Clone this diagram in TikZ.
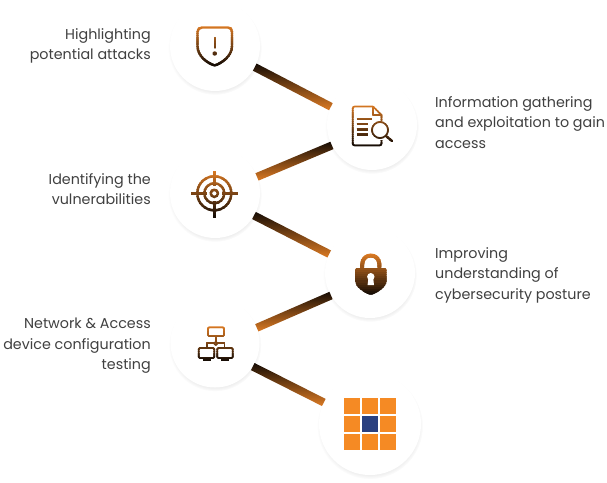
\documentclass[tikz,border=0pt]{standalone}
\usepackage{fontspec}
\setmainfont{Poppins}
\usetikzlibrary{calc,shadows}
\newlength{\du}
\setlength{\du}{1pt}
\definecolor{baseblack}{rgb}{0.090000, 0.050000, 0.020000}
\definecolor{baseorange}{rgb}{0.860000, 0.480000, 0.140000}
\definecolor{logoorange}{rgb}{0.960000, 0.540000, 0.140000}
\definecolor{logoblue}{rgb}{0.160000, 0.250000, 0.500000}
\definecolor{labelgray}{rgb}{0.250000, 0.250000, 0.250000}
\tikzset{
  badge/.style={circle,fill=white,inner sep=0pt,outer sep=0pt,
    circular drop shadow={shadow xshift=0pt,shadow yshift=-2\du,shadow scale=1.04,opacity=0.11,fill=black}},
  caption/.style={text=labelgray,font=\fontsize{14.3}{20.5}\selectfont,inner sep=0pt},
  iconline/.style={draw=iconcolor,line width=2.4\du,line cap=round,line join=round},
  iconthin/.style={draw=iconcolor,line width=1.7\du,line join=round}
}
\newcommand{\linkbar}[2]{\shade[top color=baseblack,bottom color=baseorange]
  ($(#1)!4\du!90:(#2)$) -- ($(#1)!4\du!-90:(#2)$) -- ($(#2)!4\du!90:(#1)$) -- ($(#2)!4\du!-90:(#1)$) -- cycle;}
\newcommand{\gradicon}[5]{\foreach \k in {0,...,19}{
  \pgfmathsetmacro\bandy{#3+\k*(#4-#3)/20}
  \pgfmathsetmacro\bandh{(#4-#3)/20+0.4}
  \pgfmathsetmacro\bandmix{100-\k*100/19}
  \colorlet{iconcolor}{baseorange!\bandmix!baseblack}
  \begin{scope}
  \clip (#1,\bandy) rectangle (#2,\bandy+\bandh);
  #5
  \end{scope}}}
\begin{document}
\begin{tikzpicture}[x=\du,y=-\du]
\useasboundingbox (0,0) rectangle (607,482);
\node[badge,minimum size=90\du] (shieldbadge) at (215,46) {};
\node[badge,minimum size=90\du] (docbadge) at (372,125) {};
\node[badge,minimum size=90\du] (targetbadge) at (215,193) {};
\node[badge,minimum size=90\du] (lockbadge) at (370,273) {};
\node[badge,minimum size=89\du] (netbadge) at (215,343) {};
\node[badge,minimum size=102\du] (logobadge) at (370,424) {};
\linkbar{shieldbadge.-28}{docbadge.156}
\linkbar{docbadge.207}{targetbadge.21}
\linkbar{targetbadge.-30}{lockbadge.155}
\linkbar{lockbadge.210}{netbadge.20}
\linkbar{netbadge.-32}{logobadge.155}
\gradicon{190}{240}{25}{67}{
  \draw[iconline] (197.5,32) .. controls (197.5,29) and (199.5,27.5) .. (202,27.5) -- (228,27.5) .. controls (230.5,27.5) and (232,29) .. (232,32) -- (232,46) .. controls (232,56) and (222,63) .. (214.7,65.5) .. controls (207,63) and (197.5,56) .. (197.5,46) -- cycle;
  \draw[iconline] (214.7,38) -- (214.7,47.5);
  \fill[iconcolor] (214.7,53.5) circle (2.2);
}
\gradicon{348}{396}{104}{147}{
  \draw[iconthin,rounded corners=2\du] (373,106.5) -- (352.7,106.5) -- (352.7,145.5) -- (381.5,145.5) -- (381.5,140);
  \draw[iconthin] (373,106.5) -- (381.5,115) -- (381.5,121);
  \draw[iconthin] (373,106.5) -- (373,115) -- (381.5,115);
  \draw[iconline,line cap=butt] (356.7,119) -- (371.7,119);
  \draw[iconline,line cap=butt] (356.7,124.2) -- (368,124.2);
  \draw[iconline,line cap=butt] (356.7,129.4) -- (368,129.4);
  \draw[iconline,line cap=butt] (356.7,134.6) -- (368,134.6);
  \draw[iconthin,fill=white] (380,130) circle (8);
  \draw[iconline] (386,136) -- (392,141);
}
\gradicon{188}{240}{170}{218}{
  \draw[iconline] (214.3,193.3) circle (17);
  \draw[iconline] (214.3,193.3) circle (10);
  \draw[iconline] (214.3,193.3) circle (3.6);
  \draw[iconline,line cap=butt] (214.3,171) -- (214.3,186);
  \draw[iconline,line cap=butt] (214.3,201) -- (214.3,217.5);
  \draw[iconline,line cap=butt] (191.3,193.3) -- (207,193.3);
  \draw[iconline,line cap=butt] (222,193.3) -- (237.7,193.3);
}
\gradicon{350}{392}{253}{296}{
  \draw[draw=iconcolor,line width=4\du] (362.2,270) -- (362.2,264.5) .. controls (362.2,259) and (366,255.5) .. (370.8,255.5) .. controls (375.6,255.5) and (379.4,259) .. (379.4,264.5) -- (379.4,270);
  \fill[iconcolor,rounded corners=1.5\du] (355,268) -- (386.7,268) -- (386.7,279) .. controls (386.7,287) and (378,292.5) .. (370.8,295) .. controls (363.5,292.5) and (355,287) .. (355,279) -- cycle;
}
\fill[white] (370.8,276.7) circle (3.7);
\fill[white] (368.4,278) -- (373.2,278) -- (374,285) -- (367.6,285) -- cycle;
\gradicon{194}{236}{326}{362}{
  \draw[iconthin,rounded corners=1\du] (208,327.3) rectangle (224,336);
  \draw[iconthin] (215.8,336) -- (215.8,343.3);
  \draw[iconthin] (206.7,348) -- (206.7,343.3) -- (224.5,343.3) -- (224.5,348);
  \draw[iconthin,fill=white] (215.8,343.3) circle (1.6);
  \draw[iconthin,rounded corners=1\du] (198.8,348) rectangle (214.2,358);
  \draw[iconthin,rounded corners=1\du] (217.3,348) rectangle (232.7,358);
  \draw[iconline,line cap=butt] (202.5,360) -- (210.5,360);
  \draw[iconline,line cap=butt] (221,360) -- (229,360);
}
\foreach \sqx in {344,362,380}
  \foreach \sqy in {398,416,434}
    \fill[logoorange] (\sqx,\sqy) rectangle +(16,16);
\fill[logoblue] (362,416) rectangle +(16,16);
\node[caption,align=right,anchor=east] (shieldlabel) at (151,46) {Highlighting\\potential attacks};
\node[caption,align=left,anchor=west] (doclabel) at (435,122.5) {Information gathering\\and exploitation to gain\\access};
\node[caption,align=right,anchor=east] (targetlabel) at (151,189) {Identifying the\\vulnerabilities};
\node[caption,align=left,anchor=west] (locklabel) at (435,275) {Improving\\understanding of\\cybersecurity posture};
\node[caption,align=right,anchor=east] (netlabel) at (151,346) {Network \& Access\\device configuration\\testing};
\end{tikzpicture}
\end{document}
